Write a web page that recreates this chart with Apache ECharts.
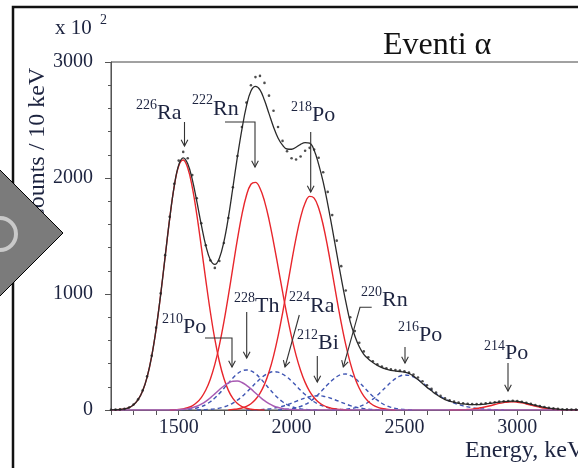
<!DOCTYPE html>
<html><head><meta charset="utf-8">
<script src="https://cdn.jsdelivr.net/npm/echarts@6/dist/echarts.min.js"></script>
<style>html,body{margin:0;padding:0;background:#fff}#c{width:578px;height:468px}</style>
</head><body><div id="c"></div>
<script>
// ---------- data (counts in units of 10^2, per 10 keV) ----------
const STEP = 20;
const energy = [
1200,1220,1240,1260,1280,1300,1320,1340,1360,1380,
1400,1420,1440,1460,1480,1500,1520,1540,1560,1580,
1600,1620,1640,1660,1680,1700,1720,1740,1760,1780,
1800,1820,1840,1860,1880,1900,1920,1940,1960,1980,
2000,2020,2040,2060,2080,2100,2120,2140,2160,2180,
2200,2220,2240,2260,2280,2300,2320,2340,2360,2380,
2400,2420,2440,2460,2480,2500,2520,2540,2560,2580,
2600,2620,2640,2660,2680,2700,2720,2740,2760,2780,
2800,2820,2840,2860,2880,2900,2920,2940,2960,2980,
3000,3020,3040,3060,3080,3100,3120,3140,3160,3180,
3200,3220,3240,3260,3280,3300];
const fitTotal = [
1,2,4,9,21,45,89,164,284,461,
700,995,1324,1650,1928,2112,2174,2122,1988,1800,
1598,1417,1295,1255,1309,1449,1660,1918,2182,2420,
2620,2750,2790,2760,2670,2555,2440,2345,2283,2250,
2248,2265,2290,2305,2300,2240,2117,1966,1777,1567,
1350,1136,936,760,640,545,480,440,410,385,
365,352,342,336,332,326,316,292,262,228,
195,165,135,110,90,76,66,58,52,48,
46,46,48,52,57,63,68,72,75,76,
74,68,60,50,40,31,23,16,11,7,
4,2,1,1,0,0];
const dataCounts = [
2,3,5,10,22,47,92,168,290,468,
710,1005,1335,1665,1950,2150,2225,2170,2025,1825,
1610,1420,1290,1225,1285,1440,1655,1920,2190,2440,
2650,2800,2870,2880,2820,2710,2580,2440,2320,2230,
2170,2160,2185,2235,2260,2245,2175,2050,1880,1680,
1460,1240,1030,800,680,580,505,455,420,395,
375,360,350,345,340,333,322,305,280,248,
214,182,150,122,100,84,72,64,58,54,
52,51,53,57,62,67,72,76,78,79,
77,71,63,53,43,34,26,19,14,10,
7,5,4,3,2,2];
// red components
const ra226Start = 1200;
const ra226 = [1,2,4,9,21,45,89,164,284,461,700,995,1324,1650,1926,2104,2155,2086,1922,1687,1409,1120,847,610,418,273,169,100,56,30,15,7,3,1,0];
const rn222Start = 1460;
const rn222 = [0,2,5,10,20,36,64,107,172,266,393,558,757,986,1229,1470,1684,1849,1946,1962,1912,1801,1642,1448,1236,1020,815,630,471,341,238,161,106,67,41,24,14,8,4,2,0];
const po218Start = 1720;
const po218 = [0,5,9,17,31,54,90,144,221,327,465,635,834,1052,1275,1484,1660,1784,1842,1827,1741,1595,1403,1186,963,752,564,406,281,187,119,73,43,24,13,7,3,0];
const po214Start = 2700;
const po214 = [0,1,2,3,5,8,13,20,28,37,47,57,64,69,70,67,61,52,42,33,24,16,11,7,4,2,1,1,0,0,0];
// purple component (full range, drawn along the baseline)
const po210Start = 1200;
const po210 = [
0,0,0,0,0,0,0,0,0,0,
0,0,0,0,0,3,6,11,20,32,
51,75,105,139,175,207,233,248,249,237,
213,182,146,112,80,55,35,22,13,7,
4,2,0,0,0,0,0,0,0,0,
0,0,0,0,0,0,0,0,0,0,
0,0,0,0,0,0,0,0,0,0,
0,0,0,0,0,0,0,0,0,0,
0,0,0,0,0,0,0,0,0,0,
0,0,0,0,0,0,0,0,0,0,
0,0,0,0,0,0];
// blue dashed components
const th228Start = 1480;
const th228 = [0,1,3,5,10,17,29,47,71,103,142,186,232,276,313,337,345,337,313,276,232,186,142,103,71,47,29,17,10,5,3,1,0];
const ra224Start = 1580;
const ra224 = [0,2,3,6,10,16,26,40,60,85,115,151,190,230,267,298,320,330,326,310,284,249,210,170,133,99,71,49,33,21,13,8,4,2,0];
const bi212Start = 1800;
const bi212 = [0,1,2,3,6,9,15,23,32,45,59,75,90,104,115,121,123,119,110,97,82,67,52,38,27,18,12,7,4,3,1,0];
const rn220Start = 1940;
const rn220 = [0,3,6,10,18,30,47,70,101,137,178,219,257,287,306,310,298,274,239,198,157,118,85,58,37,23,14,8,4,2,0];
const po216Start = 2180;
const po216 = [0,2,3,6,11,18,29,45,67,94,127,164,202,239,270,292,302,298,285,262,234,203,172,142,116,94,76,60,47,36,27,20,14,10,7,4,2,1,0];
const xTickLabels = [1500, 2000, 2500, 3000];
const yTickLabels = [0, 1000, 2000, 3000];

// ---------- chart ----------
function pairs(start, vals){ return vals.map((v,i)=>[start + i*STEP, v]); }
const serif = '"Liberation Serif","Times New Roman",serif';
const RED = '#e8262c', BLUE = '#3f55b3', PURPLE = '#a85bb3', TXT = '#1d2440';

function redLine(start, vals){
  return {type:'line', data:pairs(start, vals), smooth:0.4, symbol:'none', z:3,
          lineStyle:{color:RED, width:1.4}};
}
function blueLine(start, vals){
  return {type:'line', data:pairs(start, vals), smooth:0.4, symbol:'none', z:2,
          lineStyle:{color:BLUE, width:1.4, type:[4,3]}};
}

const chart = echarts.init(document.getElementById('c'), null, {renderer:'canvas'});

function arrow(pts){
  const n = pts.length, [x1,y1] = pts[n-2], [x2,y2] = pts[n-1];
  const a = Math.atan2(y2-y1, x2-x1), L = 7, W = 0.5;
  const head = [[x2 - L*Math.cos(a-W), y2 - L*Math.sin(a-W)], [x2,y2], [x2 - L*Math.cos(a+W), y2 - L*Math.sin(a+W)]];
  const st = {stroke:'#333', lineWidth:1.1, fill:null};
  return [
    {type:'polyline', shape:{points:pts}, style:st, z:50},
    {type:'polyline', shape:{points:head}, style:st, z:50}
  ];
}
function txt(text, x, y, size, align, color, extra){
  return Object.assign({type:'text', x:x, y:y, z:60, style:{text:text, fill:color||TXT,
    font: size + 'px ' + serif, align:align||'left', textAlign:align||'left',
    verticalAlign:'middle', textVerticalAlign:'middle'}}, extra||{});
}
function iso(sup, name, x, ySup, yName){
  return [txt(sup, x, ySup, 14, 'right'), txt(name, x, yName, 22, 'left')];
}

const annotations = [
  ...iso('226','Ra',157,105,113), ...arrow([[184.5,122],[184.5,146]]),
  ...iso('222','Rn',213,100,109), ...arrow([[225,122],[255,122],[255,167]]),
  ...iso('218','Po',312,107,115), ...arrow([[310.7,132],[310.7,192]]),
  ...iso('210','Po',183,319,327), ...arrow([[205,338],[232,338],[232,367]]),
  ...iso('228','Th',255,298,306), ...arrow([[246.7,312],[246.7,358]]),
  ...iso('224','Ra',310,297,306), ...arrow([[299.3,315],[285,367]]),
  ...iso('212','Bi',318,335,343), ...arrow([[317.3,356],[317.3,382]]),
  ...iso('220','Rn',382,292,300), ...arrow([[371.7,307.3],[360,307.3],[343.3,367]]),
  ...iso('216','Po',419,327,335), ...arrow([[405,347],[405,363]]),
  ...iso('214','Po',505,346,353), ...arrow([[508,363],[508,391]])
];

const graphics = [
  {type:'polyline', shape:{points:[[13,470],[13,7],[600,7]]}, style:{stroke:'#111', lineWidth:2.5, fill:null}, z:90},
  txt('Counts / 10 keV', 38, 146, 24, 'center', TXT, {rotation:Math.PI/2}),
  txt('x 10', 55, 28, 21, 'left'),
  txt('2', 100, 20, 14, 'left'),
  txt('Eventi \u03b1', 383, 46, 32, 'left', '#111'),
  txt('Energy, keV', 465, 451, 24, 'left'),
  {type:'polygon', shape:{points:[[63,233],[0,170],[-63,233],[0,296]]}, style:{fill:'#7b7b7b', stroke:'#000', lineWidth:1}, z:100},
  {type:'arc', shape:{cx:0, cy:234, r:16, startAngle:-Math.PI/2, endAngle:Math.PI/2}, style:{stroke:'#c9c9c9', lineWidth:4, fill:null}, z:101},
  ...annotations
];

chart.setOption({
  animation:false,
  backgroundColor:'#fff',
  grid:{left:111, top:62, right:-7, bottom:58, show:true, borderColor:'#444', borderWidth:1, containLabel:false, outerBoundsMode:'none'},
  xAxis:{type:'value', min:1200, max:3300, interval:100,
    axisLine:{show:true, lineStyle:{color:'#555', width:1}},
    axisTick:{show:true, length:5, lineStyle:{color:'#555'}},
    splitLine:{show:false},
    axisLabel:{margin:8, fontSize:20, fontFamily:serif, color:TXT,
      formatter:v => xTickLabels.includes(v) ? String(v) : ''}},
  yAxis:{type:'value', min:0, max:3000, interval:1000,
    axisLine:{show:true, lineStyle:{color:'#555', width:1}},
    axisTick:{show:true, length:6, lineStyle:{color:'#555'}},
    minorTick:{show:true, splitNumber:5, length:3, lineStyle:{color:'#555'}},
    splitLine:{show:false},
    axisLabel:{margin:18, fontSize:20, fontFamily:serif, color:TXT,
      formatter:v => yTickLabels.includes(v) ? String(v) : ''}},
  graphic:graphics,
  series:[
    blueLine(th228Start, th228),
    blueLine(ra224Start, ra224),
    blueLine(bi212Start, bi212),
    blueLine(rn220Start, rn220),
    blueLine(po216Start, po216),
    redLine(ra226Start, ra226),
    redLine(rn222Start, rn222),
    redLine(po218Start, po218),
    redLine(po214Start, po214),
    {type:'line', data:pairs(po210Start, po210), smooth:0.4, symbol:'none', z:4,
     lineStyle:{color:PURPLE, width:1.5}},
    {type:'line', data:energy.map((e,i)=>[e, fitTotal[i]]), smooth:0.4, symbol:'none', z:5,
     lineStyle:{color:'#2b2b2b', width:1.3}},
    {type:'scatter', data:energy.map((e,i)=>[e, dataCounts[i]]), symbol:'circle', symbolSize:2.6, z:6,
     itemStyle:{color:'#222'}}
  ]
});
</script></body></html>
